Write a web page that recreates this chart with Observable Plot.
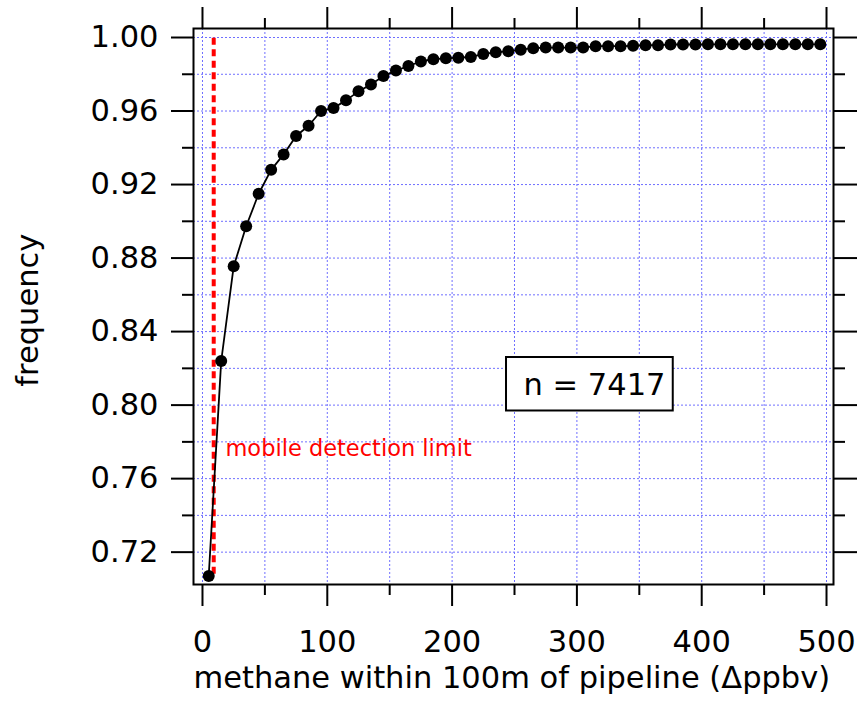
<!DOCTYPE html>
<html><head><meta charset="utf-8">
<script src="https://cdn.jsdelivr.net/npm/d3@7"></script>
<script src="https://cdn.jsdelivr.net/npm/@observablehq/plot@0.6"></script>
<style>body{margin:0;background:#fff}</style>
</head><body><div id="chart"></div>
<script>
// cumulative frequency of methane enhancement near pipelines
const methane = [5,15,25,35,45,55,65,75,85,95,105,115,125,135,145,155,165,175,185,195,205,215,225,235,245,255,265,275,285,295,305,315,325,335,345,355,365,375,385,395,405,415,425,435,445,455,465,475,485,495];
const frequency = [0.707,0.824,0.8755,0.8973,0.915,0.928,0.9364,0.9464,0.952,0.960,0.9617,0.9658,0.9707,0.9744,0.979,0.982,0.9845,0.987,0.9882,0.9887,0.989,0.9894,0.991,0.992,0.9925,0.9934,0.9942,0.9945,0.9945,0.9945,0.9945,0.9953,0.9953,0.9953,0.9955,0.9958,0.9958,0.9962,0.9962,0.9962,0.9963,0.9963,0.9963,0.9963,0.9963,0.9963,0.9963,0.9963,0.9963,0.9963];

const xTickLabels = [0,100,200,300,400,500];
const xMinorTicks = [50,150,250,350,450];
const xGrid = [0,50,100,150,200,250,300,350,400,450,500];
const yTickLabels = [0.72,0.76,0.80,0.84,0.88,0.92,0.96,1.00];
const yMinorTicks = [0.74,0.78,0.82,0.86,0.90,0.94,0.98];
const yGrid = [0.72,0.74,0.76,0.78,0.80,0.82,0.84,0.86,0.88,0.90,0.92,0.94,0.96,0.98,1.00];

const detectionLimit = 9;            // Δppbv
const detectionLabel = "mobile detection limit";
const sampleLabel = "n = 7417";
const xLabel = "methane within 100m of pipeline (Δppbv)";
const yLabel = "frequency";

// annotation anchors (data units)
const detLine = [{x: detectionLimit, y1: 0.708, y2: 1.0}];
const detText = [{x: 18.4, y: 0.7761, t: detectionLabel}];
const nBox = [{x1: 243.6, x2: 377.2, y1: 0.7968, y2: 0.8259}];
const nText = [{x: 314.1, y: 0.8107, t: sampleLabel}];

const table = methane.map((m, i) => ({m, f: frequency[i]}));

const gridStyle = {stroke: "#6f6fff", strokeOpacity: 1, strokeWidth: 1, strokeDasharray: "2,2"};
const fmt = d3.format(".2f");

const chart = Plot.plot({
  width: 860,
  height: 710,
  marginLeft: 193,
  marginRight: 27,
  marginTop: 28,
  marginBottom: 126,
  style: {fontFamily: "DejaVu Sans", fontSize: "30.5px", background: "#fff", color: "black"},
  x: {domain: [-7.2, 505.6]},
  y: {domain: [0.7024, 1.0049]},
  marks: [
    Plot.gridX(xGrid, gridStyle),
    Plot.gridY(yGrid, gridStyle),
    Plot.ruleX(detLine, {x: "x", y1: "y1", y2: "y2", stroke: "#ff0000", strokeWidth: 4, strokeDasharray: "7,4.5"}),
    Plot.line(table, {x: "m", y: "f", stroke: "black", strokeWidth: 1.8}),
    Plot.dot(table, {x: "m", y: "f", r: 6, fill: "black"}),
    Plot.text(detText, {x: "x", y: "y", text: "t", fill: "#ff0000", fontSize: 22.5, textAnchor: "start"}),
    Plot.rect(nBox, {x1: "x1", x2: "x2", y1: "y1", y2: "y2", fill: "white", stroke: "black", strokeWidth: 2}),
    Plot.text(nText, {x: "x", y: "y", text: "t", fill: "black", fontSize: 30.5}),
    // bottom axis
    Plot.axisX(xTickLabels, {anchor: "bottom", tickSize: 22, strokeWidth: 2, fill: "none", label: null}),
    Plot.axisX(xMinorTicks, {anchor: "bottom", tickSize: 11, strokeWidth: 2, fill: "none", label: null}),
    Plot.axisX(xTickLabels, {anchor: "bottom", tickSize: 0, tickPadding: 46, fill: "black", fontSize: 30.5, label: null}),
    // top axis
    Plot.axisX(xTickLabels, {anchor: "top", tickSize: 22, strokeWidth: 2, fill: "none", label: null}),
    Plot.axisX(xMinorTicks, {anchor: "top", tickSize: 11, strokeWidth: 2, fill: "none", label: null}),
    // left axis
    Plot.axisY(yTickLabels, {anchor: "left", tickSize: 22, strokeWidth: 2, fill: "none", label: null}),
    Plot.axisY(yMinorTicks, {anchor: "left", tickSize: 11, strokeWidth: 2, fill: "none", label: null}),
    Plot.axisY(yTickLabels, {anchor: "left", tickSize: 0, tickPadding: 35, fill: "black", fontSize: 30.5, tickFormat: fmt, label: null}),
    // right axis
    Plot.axisY(yTickLabels, {anchor: "right", tickSize: 23, strokeWidth: 2, fill: "none", label: null}),
    Plot.axisY(yMinorTicks, {anchor: "right", tickSize: 11, strokeWidth: 2, fill: "none", label: null}),
    Plot.frame({stroke: "black", strokeWidth: 2}),
    // axis titles
    Plot.text([xLabel], {frameAnchor: "bottom-left", textAnchor: "start", dy: 103, fill: "black", fontSize: 30.5}),
    Plot.text([yLabel], {frameAnchor: "left", textAnchor: "middle", rotate: -90, dx: -165.5, dy: 3.7, fill: "black", fontSize: 30.5})
  ]
});
document.getElementById("chart").appendChild(chart);
</script>
</body></html>
